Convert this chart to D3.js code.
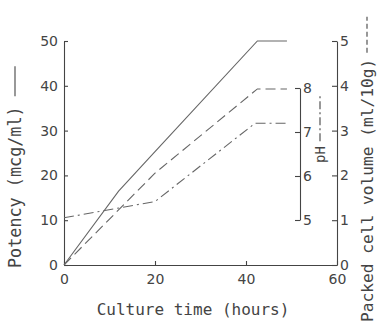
<!DOCTYPE html>
<html>
<head>
<meta charset="utf-8">
<script src="https://cdn.jsdelivr.net/npm/d3@7"></script>
<style>
  body { margin: 0; background: #fff; }
  svg { display: block; }
  .tick text { font-family: "DejaVu Sans", sans-serif; font-size: 14px; fill: #444; }
  .title { font-family: "DejaVu Sans Mono", monospace; fill: #444; }
</style>
</head>
<body>
<div id="svg-container"></div>
<script>
// Data
const potencyHours = [0, 12, 20, 42.5, 49]
const potency = [0, 16.5, 25.3, 50, 50]
const pcvHours = [0, 20, 42.5, 49]
const pcv = [0, 2.05, 3.93, 3.93]
const phHours = [0, 20, 42, 49]
const ph = [5.05, 5.42, 7.2, 7.2]

const xTicks = [0, 20, 40, 60]
const potencyTicks = [0, 10, 20, 30, 40, 50]
const pcvTicks = [0, 1, 2, 3, 4, 5]
const phTicks = [5, 6, 7, 8]

width = 378
height = 324
axisColor = "#444"
lineColor = "#666"
fmt = d3.format("d")

svg = d3.select("#svg-container")
    .append("svg")
    .attr("width", width)
    .attr("height", height)

x = d3.scaleLinear().domain([0, 60]).range([64, 337])
yPot = d3.scaleLinear().domain([0, 50]).range([265, 41])
yPcv = d3.scaleLinear().domain([0, 5]).range([265, 41])
yPh = d3.scaleLinear().domain([5, 8]).range([220, 88])

function styleAxis(g) {
    g.selectAll("path, line").attr("stroke", axisColor).attr("stroke-width", 1.1)
}

// axes
svg.append("g")
    .attr("transform", "translate(0,265)")
    .call(d3.axisBottom(x).tickValues(xTicks).tickFormat(fmt).tickSizeInner(-4).tickSizeOuter(0).tickPadding(9))
    .call(styleAxis)

svg.append("g")
    .attr("transform", "translate(64,0)")
    .call(d3.axisLeft(yPot).tickValues(potencyTicks).tickFormat(fmt).tickSizeInner(-4).tickSizeOuter(0).tickPadding(6))
    .call(styleAxis)

svg.append("g")
    .attr("transform", "translate(337,0)")
    .call(d3.axisRight(yPcv).tickValues(pcvTicks).tickFormat(fmt).tickSizeInner(-5).tickSizeOuter(0).tickPadding(3))
    .call(styleAxis)

svg.append("g")
    .attr("transform", "translate(300,0)")
    .call(d3.axisRight(yPh).tickValues(phTicks).tickFormat(fmt).tickSizeInner(-5).tickSizeOuter(0).tickPadding(3))
    .call(styleAxis)

svg.selectAll(".domain").attr("fill", "none")

// lines
function drawLine(xs, ys, yScale, dash) {
    line = d3.line()
        .x((d, i) => x(xs[i]))
        .y((d) => yScale(d))
    svg.append("path")
        .attr("d", line(ys))
        .attr("fill", "none")
        .attr("stroke", lineColor)
        .attr("stroke-width", 1.1)
        .attr("stroke-dasharray", dash)
}

drawLine(potencyHours, potency, yPot, null)
drawLine(pcvHours, pcv, yPcv, "10,5")
drawLine(phHours, ph, yPh, "10,4,2,4")

// titles with line samples after them (rotated -90)
function rotatedTitle(cx, yStart, text, size, gap, sampleLen, dash) {
    g = svg.append("g").attr("transform", "translate(" + cx + "," + yStart + ") rotate(-90)")
    t = g.append("text")
        .attr("class", "title")
        .attr("font-size", size + "px")
        .attr("dominant-baseline", "central")
        .text(text)
    len = t.node().getComputedTextLength()
    g.append("line")
        .attr("x1", len + gap)
        .attr("x2", len + gap + sampleLen)
        .attr("y1", 0)
        .attr("y2", 0)
        .attr("stroke", axisColor)
        .attr("stroke-width", 1.1)
        .attr("stroke-dasharray", dash)
}

rotatedTitle(15, 268, "Potency (mcg/ml)", 16.8, 10, 30, null)
rotatedTitle(367, 322, "Packed cell volume (ml/10g)", 16.2, 6, 36, "5,3")
rotatedTitle(320, 163, "pH", 14, 5, 46, "8,3,2,3")

svg.append("text")
    .attr("class", "title")
    .attr("font-size", "16px")
    .attr("x", 193)
    .attr("y", 315)
    .attr("text-anchor", "middle")
    .text("Culture time (hours)")
</script>
</body>
</html>
